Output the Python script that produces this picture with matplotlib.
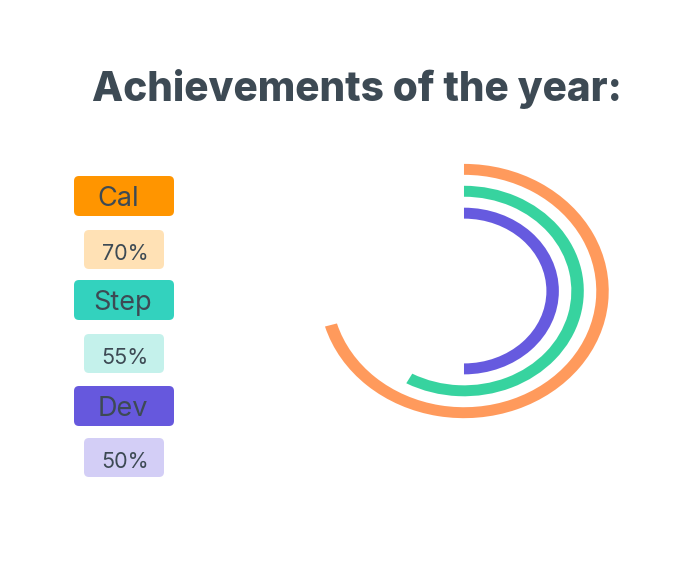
import matplotlib.pyplot as plt
from matplotlib.patches import Wedge, FancyBboxPatch

# data
names = ["Cal", "Step", "Dev"]
pct_labels = ["70%", "55%", "50%"]
arc_values = [70.5, 58, 50]          # share of a full turn, as drawn
radii = [1.0, 0.82, 0.64]

arc_colors = ["#FF9A5C", "#37D39F", "#665ADF"]
box_colors = ["#FF9500", "#33D2BE", "#6658DD"]
pale_colors = ["#FFE1B5", "#C4F1EB", "#D3CEF6"]
text_color = "#3D4A54"

W, H = 678, 582
fig = plt.figure(figsize=(W / 100, H / 100), dpi=100)
fig.patch.set_facecolor("white")

# overlay axes in pixel units for the title and the labels
ov = fig.add_axes([0, 0, 1, 1])
ov.set_xlim(0, W)
ov.set_ylim(H, 0)
ov.axis("off")

ov.text(357, 101, "Achievements of the year:", ha="center", va="baseline",
        fontsize=29.2, fontweight="heavy", color=text_color, family="Inter")

name_tops = [176, 280, 386]
pct_tops = [230, 334, 438]
for i in range(len(names)):
    b = FancyBboxPatch((74, name_tops[i]), 100, 40,
                       boxstyle="round,pad=0,rounding_size=5",
                       fc=box_colors[i], ec="none")
    ov.add_patch(b)
    ov.text(123 - (5 if i == 0 else 0), name_tops[i] + 30, names[i],
            ha="center", va="baseline", fontsize=19.5, color=text_color, family="Inter")
    p = FancyBboxPatch((84, pct_tops[i]), 80, 39,
                       boxstyle="round,pad=0,rounding_size=5",
                       fc=pale_colors[i], ec="none")
    ov.add_patch(p)
    ov.text(125, pct_tops[i] + 30, pct_labels[i],
            ha="center", va="baseline", fontsize=15.5, color=text_color, family="Inter")

# ring chart
ax = fig.add_axes([0.4392, 0.2491, 0.4903, 0.5017])
ax.set_xlim(-1.2, 1.2)
ax.set_ylim(-1.2, 1.2)
ax.axis("off")
thick = 0.09
for r, v, c in zip(radii, arc_values, arc_colors):
    ax.add_patch(Wedge((0, 0), r + thick / 2, 90 - v * 3.6, 90,
                       width=thick, fc=c, ec="none"))

fig.savefig("out.png", dpi=100, facecolor="white")
